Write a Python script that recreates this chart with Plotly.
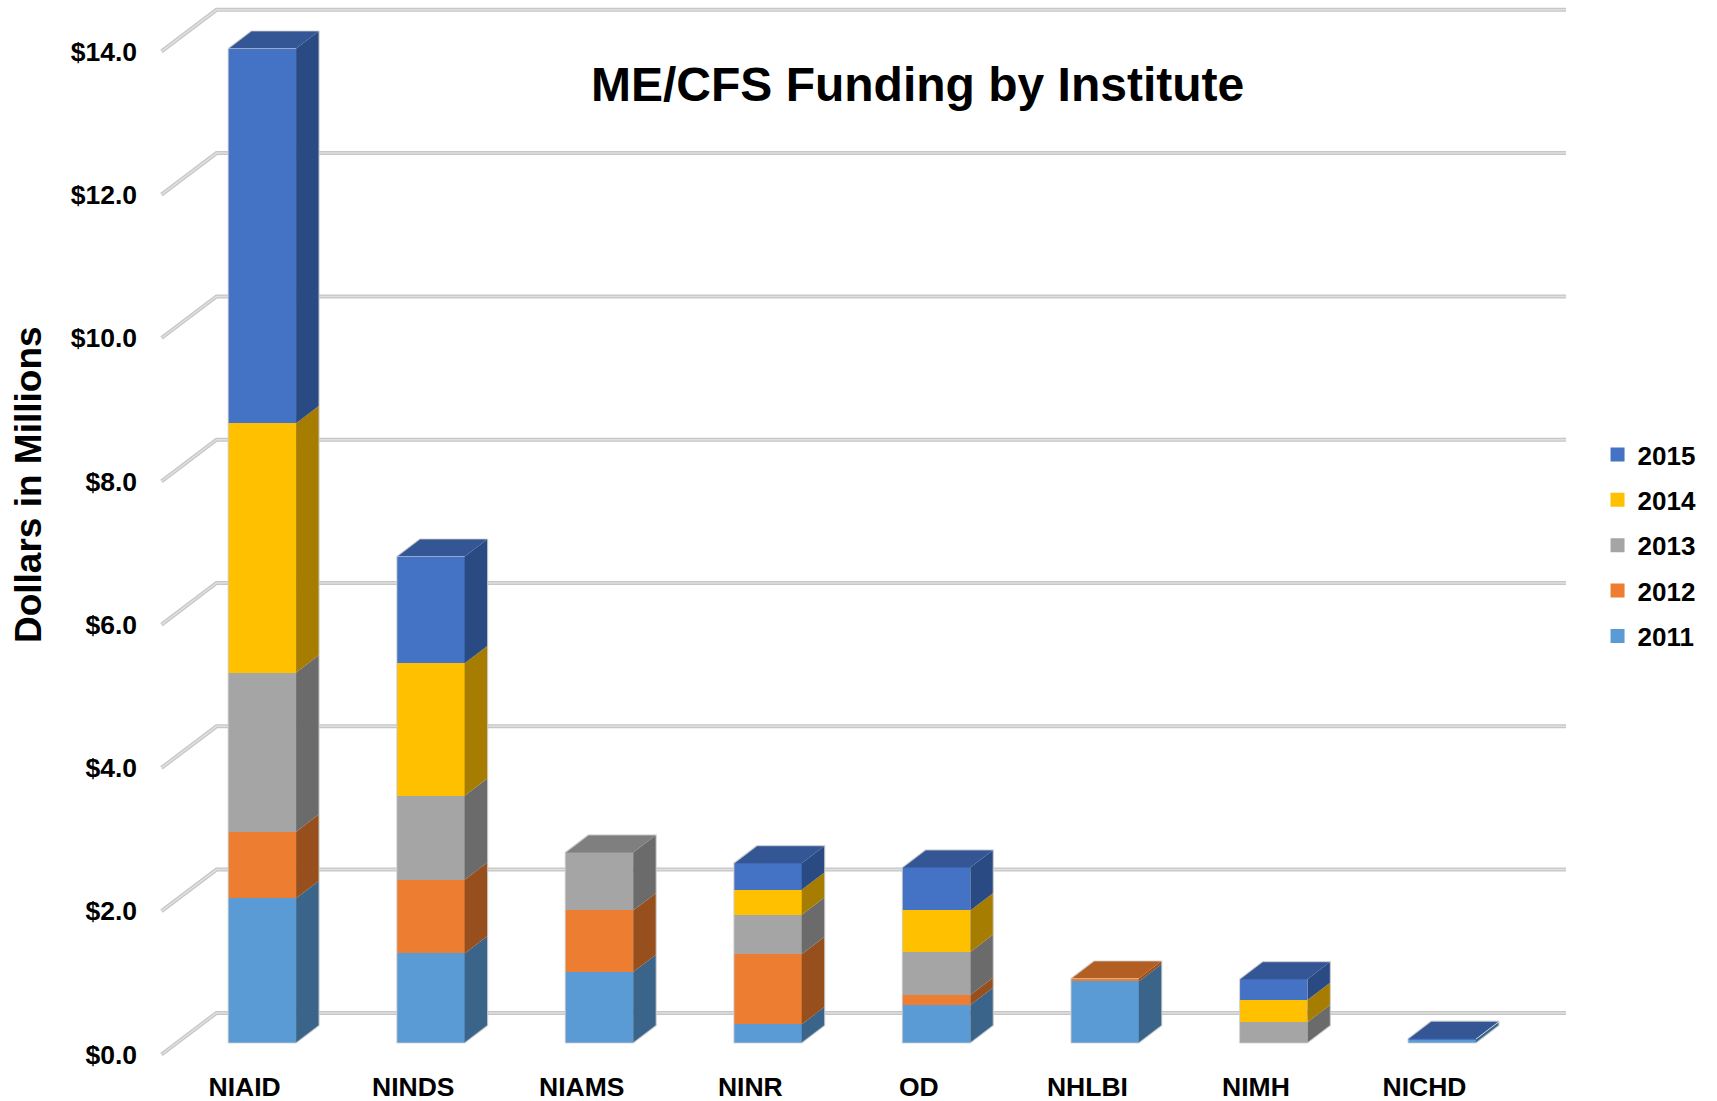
import numpy as np
import plotly.graph_objects as go

institutes = ["NIAID", "NINDS", "NIAMS", "NINR", "OD", "NHLBI", "NIMH", "NICHD"]
years = ["2011", "2012", "2013", "2014", "2015"]
funding_2011 = [2.02, 1.25, 0.99, 0.26, 0.53, 0.86, 0.00, 0.05]
funding_2012 = [0.93, 1.03, 0.86, 0.98, 0.14, 0.04, 0.00, 0.00]
funding_2013 = [2.22, 1.17, 0.81, 0.55, 0.60, 0.00, 0.29, 0.00]
funding_2014 = [3.48, 1.85, 0.00, 0.35, 0.58, 0.00, 0.31, 0.00]
funding_2015 = [5.23, 1.49, 0.00, 0.37, 0.60, 0.00, 0.29, 0.01]
front_colors = ["#5B9BD5", "#ED7D31", "#A5A5A5", "#FFC000", "#4472C4"]
side_colors = ["#3A6489", "#97501D", "#6B6B6B", "#A67D00", "#294A83"]
top_colors = ["#44749F", "#B35E22", "#7F7F7F", "#BF9000", "#345694"]
y_ticks = [0, 2, 4, 6, 8, 10, 12, 14]
y_tick_labels = ["$0.0", "$2.0", "$4.0", "$6.0", "$8.0", "$10.0", "$12.0", "$14.0"]

W, H = 1717, 1101
PL, PB = 137.5, 1068          # plot-area left / bottom in page pixels
X0_PX, X_UNIT = 261.7, 168.6  # first bar centre, px between bars
Y0_PX, Y_UNIT = 1043.0, 71.65  # bar base, px per $1M
AXIS_DROP = 11.5             # axis front edge lies this far under the bar base
BAR_W = 0.4026
DX, DY = 23 / X_UNIT, 17.5 / Y_UNIT   # bar depth
STUB_X0 = (161 - X0_PX) / X_UNIT
STUB_X1 = (216 - X0_PX) / X_UNIT
GRID_X1 = (1566 - X0_PX) / X_UNIT
STUB_DY = 41.6 / Y_UNIT
LABEL_SHIFT = 17.5 / X_UNIT

series = np.array([funding_2011, funding_2012, funding_2013, funding_2014, funding_2015])
tops = np.cumsum(series, axis=0)
bases = tops - series
totals = tops[-1]
xs = np.arange(len(institutes), dtype=float)

fig = go.Figure()

# wall / floor gridlines, on the primary y axis that also carries the labels
gx, gy = [], []
for v in y_ticks:
    gx += [STUB_X0, STUB_X1, GRID_X1, None]
    gy += [v, v + STUB_DY, v + STUB_DY, None]
fig.add_trace(go.Scatter(x=gx, y=gy, mode="lines", showlegend=False, hoverinfo="skip",
                         line=dict(color="#C6C6C6", width=4), yaxis="y"))
fig.add_trace(go.Scatter(x=gx, y=gy, mode="lines", showlegend=False, hoverinfo="skip",
                         line=dict(color="#E0E0E0", width=1.5), yaxis="y"))

# front faces
for k, yr in enumerate(years):
    fig.add_trace(go.Bar(x=xs, y=series[k], width=BAR_W, name=yr, showlegend=False,
                         marker=dict(color=front_colors[k], line=dict(width=0)), yaxis="y2"))

# side faces
for k, yr in enumerate(years):
    px, py = [], []
    for i, x in enumerate(xs):
        if series[k][i] <= 0:
            continue
        r = x + BAR_W / 2
        px += [r, r + DX, r + DX, r, r, None]
        py += [bases[k][i], bases[k][i] + DY, tops[k][i] + DY, tops[k][i], bases[k][i], None]
    fig.add_trace(go.Scatter(x=px, y=py, mode="lines", fill="toself", fillcolor=side_colors[k],
                             line=dict(width=0), showlegend=False, hoverinfo="skip", yaxis="y2"))

# top faces, coloured by the uppermost non-empty segment
for k, yr in enumerate(years):
    px, py = [], []
    for i, x in enumerate(xs):
        if not any(series[j][i] > 0 for j in range(k + 1, 5)) and series[k][i] > 0:
            l, r = x - BAR_W / 2, x + BAR_W / 2
            t = totals[i]
            px += [l, r, r + DX, l + DX, l, None]
            py += [t, t, t + DY, t + DY, t, None]
    if px:
        fig.add_trace(go.Scatter(x=px, y=py, mode="lines", fill="toself", fillcolor=top_colors[k],
                                 line=dict(width=0), showlegend=False, hoverinfo="skip", yaxis="y2"))

# pale silhouette around each bar
ox, oy = [], []
for i, x in enumerate(xs):
    l, r, t = x - BAR_W / 2, x + BAR_W / 2, totals[i]
    ox += [l, l, l + DX, r + DX, r + DX, r, l, None]
    oy += [0, t, t + DY, t + DY, DY, 0, 0, None]
fig.add_trace(go.Scatter(x=ox, y=oy, mode="lines", line=dict(color="rgba(205,205,205,0.8)", width=1.2),
                         showlegend=False, hoverinfo="skip", yaxis="y2"))

# legend swatches, newest year first
for k in range(len(years) - 1, -1, -1):
    fig.add_trace(go.Scatter(x=[None], y=[None], mode="markers", name=years[k], legendgroup=years[k],
                             marker=dict(symbol="square", size=14, color=front_colors[k]), yaxis="y2"))

FONT = "Liberation Sans, Arial, sans-serif"
x_lo = (PL - X0_PX) / X_UNIT
x_hi = (W - X0_PX) / X_UNIT
y2_hi = Y0_PX / Y_UNIT
y2_lo = (Y0_PX - PB) / Y_UNIT
shift = AXIS_DROP / Y_UNIT

fig.update_layout(
    width=W, height=H, autosize=False,
    margin=dict(l=PL, r=0, t=0, b=H - PB, pad=0),
    paper_bgcolor="white", plot_bgcolor="white",
    barmode="stack", bargap=0,
    title=dict(text="ME/CFS Funding by Institute", x=917.6 / W, y=1 - 84 / H,
               xref="container", yref="container", xanchor="center", yanchor="middle",
               font=dict(family=FONT, size=48, color="black", weight=700)),
    xaxis=dict(range=[x_lo, x_hi], tickmode="array", tickvals=list(xs - LABEL_SHIFT), ticktext=institutes,
               showgrid=False, zeroline=False, showline=False, ticks="",
               tickfont=dict(family=FONT, size=26.5, color="black", weight=700)),
    yaxis=dict(range=[y2_lo + shift, y2_hi + shift], tickmode="array", tickvals=y_ticks, ticktext=y_tick_labels,
               showgrid=False, zeroline=False, showline=False, ticks="",
               tickfont=dict(family=FONT, size=26.5, color="black", weight=700)),
    yaxis2=dict(range=[y2_lo, y2_hi], overlaying="y", visible=False),
    legend=dict(x=(1597.5 - PL) / (W - PL), y=1 - 431 / PB, xanchor="left", yanchor="top",
                traceorder="grouped", tracegroupgap=8.6, itemclick=False, itemdoubleclick=False,
                font=dict(family=FONT, size=26, color="black", weight=700), bgcolor="rgba(0,0,0,0)"),
    annotations=[dict(text="Dollars in Millions", textangle=-90, showarrow=False,
                      xref="paper", yref="paper", x=(28 - PL) / (W - PL), y=1 - 484.5 / PB,
                      xanchor="center", yanchor="middle",
                      font=dict(family=FONT, size=37, color="black", weight=700))],
    showlegend=True,
)

fig.write_html("out.html", config={"displayModeBar": False},
               post_script="document.body.style.margin='0';document.documentElement.style.overflow='hidden';")
